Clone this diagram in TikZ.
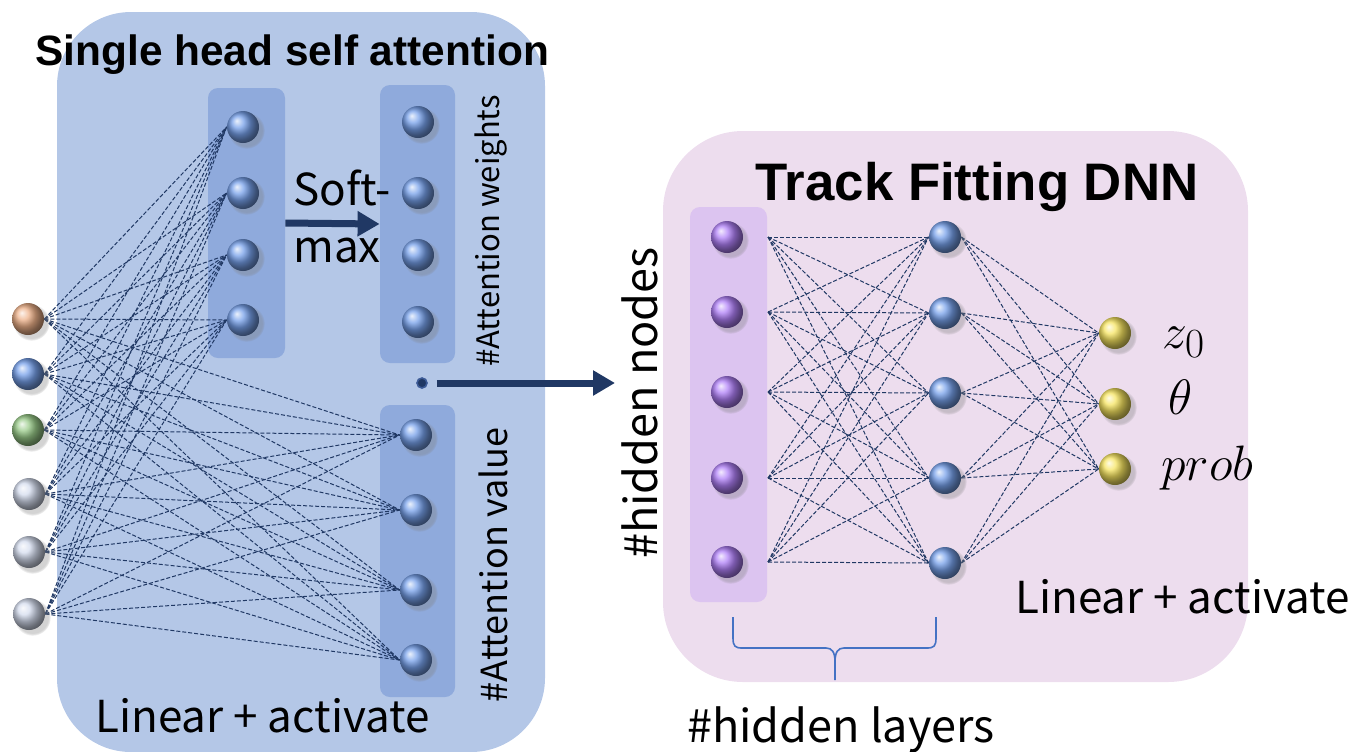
\documentclass[tikz,border=0pt]{standalone}
\usepackage{fontspec}
\setmainfont{Liberation Sans}
\newfontfamily\lab{Noto Sans CJK SC}
\usetikzlibrary{arrows.meta,shadows}
\definecolor{bigblue}{HTML}{B4C7E7}
\definecolor{colblue}{HTML}{8FAADC}
\definecolor{pinkbg}{HTML}{EDDDEE}
\definecolor{purplecol}{HTML}{DCC4F0}
\definecolor{navy}{HTML}{203864}
\definecolor{bracecol}{HTML}{4472C4}
\definecolor{ballblue}{HTML}{76A0EA}
\definecolor{ballorange}{HTML}{EDB088}
\definecolor{ballgreen}{HTML}{98CA88}
\definecolor{ballgrey}{HTML}{D4DCEE}
\definecolor{ballpurple}{HTML}{B080F8}
\definecolor{ballyellow}{HTML}{F6E460}
\pgfdeclarelayer{back}
\pgfdeclarelayer{mid}
\pgfsetlayers{back,mid,main}
\begin{document}
\begin{tikzpicture}[x=0.5pt,y=-0.5pt,
  ball/.style={circle, minimum size=16pt, inner sep=0pt, ball color=#1,
    circular drop shadow={shadow xshift=1.5pt, shadow yshift=-1.5pt, opacity=0.35, shadow scale=1.15}},
  conn/.style={navy, line width=0.5pt, dash pattern=on 2pt off 1pt},
  bigbox/.style={rounded corners=37pt},
  colbox/.style={rounded corners=5pt},
  bigarrow/.style={navy, line width=3.5pt, -{Triangle[length=11pt,width=12pt]}},
  txt/.style={inner sep=0pt, font=\lab},
]
\useasboundingbox (0,0) rectangle (1360,751);

% background boxes
\begin{pgfonlayer}{back}
\fill[bigblue, bigbox] (57,12) rectangle (545,752);
\fill[pinkbg, rounded corners=40pt] (663,131) rectangle (1248,682);
\node[fill=colblue, colbox, inner sep=0pt, minimum width=38.5pt, minimum height=135pt] (qbox) at (246.5,223) {};
\node[fill=colblue, colbox, inner sep=0pt, minimum width=37.5pt, minimum height=139pt] (wbox) at (417.5,224) {};
\node[fill=colblue, colbox, inner sep=0pt, minimum width=37.5pt, minimum height=146pt] (vbox) at (417.5,551) {};
\node[fill=purplecol, colbox, inner sep=0pt, minimum width=38.5pt, minimum height=197.5pt] (pbox) at (728.5,404.5) {};
\end{pgfonlayer}

% input nodes
\node[ball=ballorange] (x1) at (28,319) {};
\node[ball=ballblue]   (x2) at (28,374) {};
\node[ball=ballgreen]  (x3) at (28,430) {};
\node[ball=ballgrey]   (x4) at (29,494) {};
\node[ball=ballgrey]   (x5) at (29,552) {};
\node[ball=ballgrey]   (x6) at (29,614) {};

% first column
\foreach \y [count=\i] in {127,193,255,320} \node[ball=ballblue] (q\i) at (243,\y) {};
% attention weights
\foreach \y [count=\i] in {122,193,255,322} \node[ball=ballblue] (w\i) at (418,\y) {};
% attention value
\foreach \y [count=\i] in {435,510,590,660} \node[ball=ballblue] (v\i) at (416,\y) {};

% hidden network
\foreach \y [count=\i] in {237,312,392,478,562} {
  \node[ball=ballpurple] (p\i) at (727,\y) {};
  \coordinate (ps\i) at (768,\y);
}
\foreach \y [count=\i] in {237,313,393,478,563} \node[ball=ballblue] (b\i) at (945,\y) {};
\foreach \y [count=\i] in {333,404,469} \node[ball=ballyellow] (o\i) at (1115,\y) {};

% connections
\begin{pgfonlayer}{mid}
\foreach \i in {1,...,6} \foreach \j in {1,...,4} {
  \draw[conn] (x\i.east) -- (q\j.west);
  \draw[conn] (x\i.east) -- (v\j.west);
}
\foreach \i in {1,...,5} \foreach \j in {1,...,5} \draw[conn] (ps\i) -- (b\j.west);
\foreach \i in {1,...,5} \foreach \j in {1,...,3} \draw[conn] (b\i.east) -- (o\j.west);
\end{pgfonlayer}

% arrows
\draw[bigarrow] (qbox.east) -- (wbox.west);
\node[circle, fill=navy, draw={rgb,255:red,60;green,90;blue,150}, line width=0.8pt, inner sep=0pt, minimum size=5pt] (dot) at (422,383) {};
\coordinate (aend) at (615,383);
\draw[bigarrow] ([xshift=4.5pt]dot.east) -- (aend);

% titles
\node[inner sep=0pt, anchor=base west, font=\fontsize{21.2}{24}\selectfont\bfseries] (t1) at (35,65) {Single head self attention};
\node[inner sep=0pt, anchor=base west, font=\fontsize{26.4}{30}\selectfont\bfseries] (t2) at (755,200) {Track Fitting DNN};

% labels
\node[txt, anchor=base west, font=\lab\fontsize{22}{26}\selectfont] (s1) at (293,205) {Soft-};
\node[txt, anchor=base west, font=\lab\fontsize{22}{26}\selectfont] (s2) at (293,262) {max};
\node[txt, rotate=90, font=\lab\fontsize{15.5}{20}\selectfont] (lw) at (491,231) {\#Attention weights};
\node[txt, rotate=90, font=\lab\fontsize{18}{22}\selectfont] (lv) at (493,565) {\#Attention value};
\node[txt, rotate=90, font=\lab\fontsize{22.5}{28}\selectfont] (ln) at (640,403) {\#hidden nodes};
\node[txt, anchor=base west, font=\lab\fontsize{22}{28}\selectfont] (la1) at (95,732) {Linear + activate};
\node[txt, anchor=base west, font=\lab\fontsize{22}{28}\selectfont] (la2) at (1015,613) {Linear + activate};
\node[txt, anchor=base, font=\lab\fontsize{22.5}{28}\selectfont] (ll) at (841,742) {\#hidden layers};

% output labels
\node[inner sep=0pt, anchor=base west, font=\fontsize{29}{33}\selectfont] (lz) at (1162,348) {$z_0$};
\node[inner sep=0pt, anchor=base west, font=\fontsize{29}{33}\selectfont] (lt) at (1168,414) {$\theta$};
\node[inner sep=0pt, anchor=base west, font=\fontsize{29}{33}\selectfont] (lp) at (1161,480) {$prob$};

% brace
\draw[bracecol, line width=0.8pt]
  (733,617) -- (733,638) .. controls (733,646) and (735,648) .. (742,648) -- (826,648)
  .. controls (832,648) and (835,652) .. (835,662) -- (835,680);
\draw[bracecol, line width=0.8pt]
  (936,617) -- (936,638) .. controls (936,646) and (934,648) .. (927,648) -- (844,648)
  .. controls (838,648) and (835,652) .. (835,662);
\end{tikzpicture}
\end{document}
